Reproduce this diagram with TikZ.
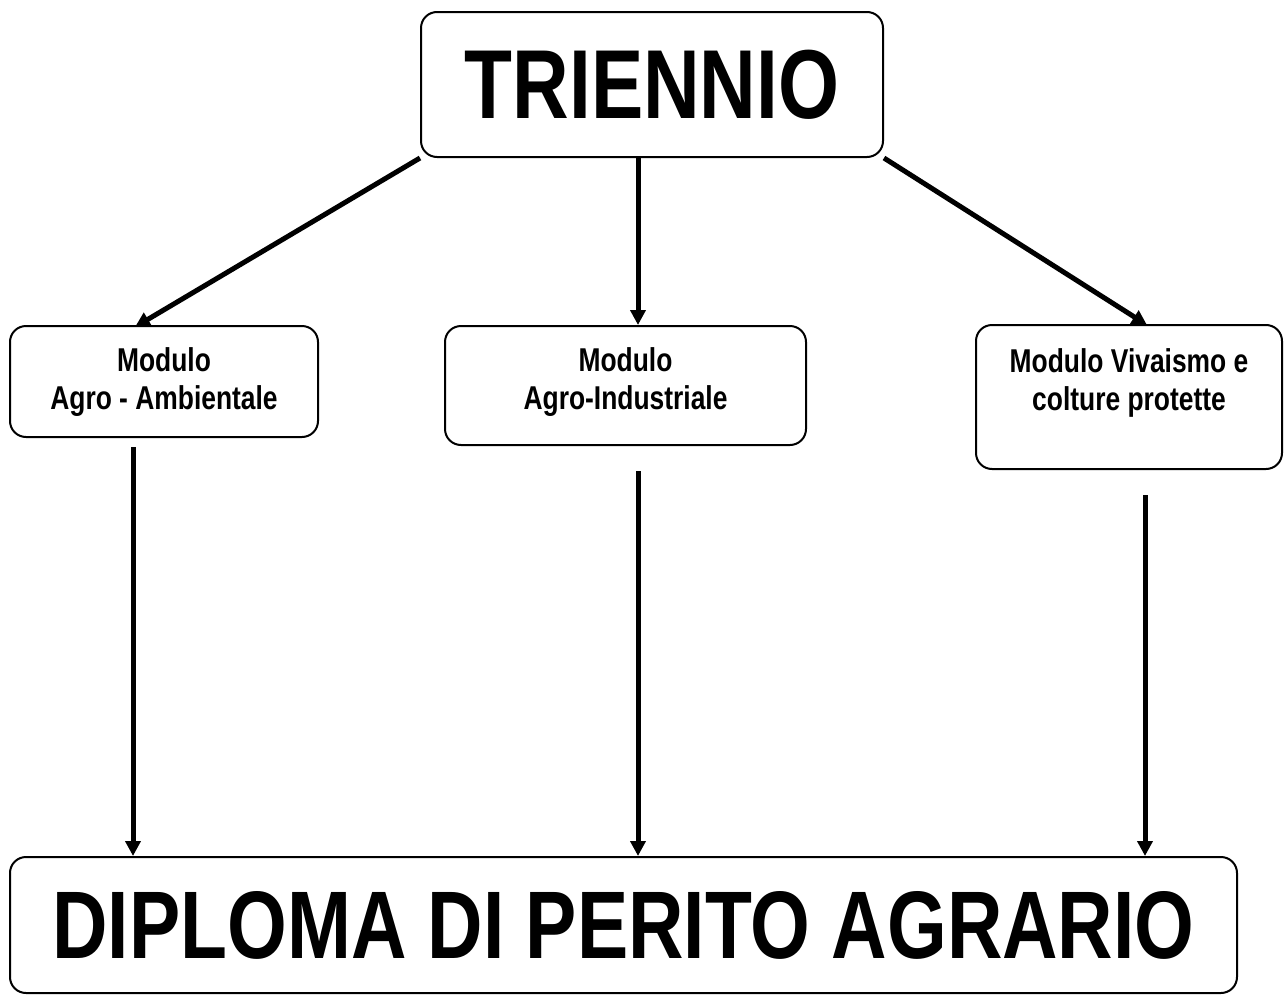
\documentclass[tikz,border=0pt]{standalone}
\usepackage{fontspec}
\setmainfont{Liberation Sans}[FakeStretch=0.8]
\usetikzlibrary{arrows.meta}

\begin{document}
\begin{tikzpicture}
[x=1pt,y=-1pt,>={Triangle[length=15pt,width=15pt]},
 box/.style={draw,line width=2pt,rounded corners=16pt,inner sep=0pt},
 big/.style={font=\fontsize{98}{110}\selectfont\bfseries},
 small/.style={font=\fontsize{33}{38}\selectfont\bfseries,align=center,inner sep=0pt,anchor=north},
 link/.style={->,line width=5pt}]
\useasboundingbox (0,0) rectangle (1286,996);

% nodes
\node [box, big, minimum width=462pt, minimum height=145pt] (T) at (652,84.5) {TRIENNIO};
\node [box, minimum width=308pt, minimum height=111pt] (M1) at (164,381.5) {};
\node [box, minimum width=361pt, minimum height=119pt] (M2) at (625.5,385.5) {};
\node [box, minimum width=306pt, minimum height=144pt] (M3) at (1129,397) {};
\node [box, big, font=\fontsize{96}{110}\selectfont\bfseries, minimum width=1227pt, minimum height=136pt] (D) at (623.5,925) {DIPLOMA DI PERITO AGRARIO};

% texts
\node [small] (t1) at (164,347) {Modulo\\Agro - Ambientale};
\node [small] (t2) at (625.5,347) {Modulo\\Agro-Industriale};
\node [small] (t3) at (1129,348) {Modulo Vivaismo e\\colture protette};

% coordinates
\coordinate (a1) at (135,327);
\coordinate (a2) at (638,325);
\coordinate (a3) at (1147,325);
\coordinate (s1) at (133,447);
\coordinate (s2) at (638,471);
\coordinate (s3) at (1145,495);

% arrows 1
\draw [link] (T.south west) -- (a1);
\draw [link] (T.south -| a2) -- (a2);
\draw [link] (T.south east) -- (a3);

% arrows 2
\draw [link] (s1) -- (D.north -| s1);
\draw [link] (s2) -- (D.north -| s2);
\draw [link] (s3) -- (D.north -| s3);

\end{tikzpicture}
\end{document}
